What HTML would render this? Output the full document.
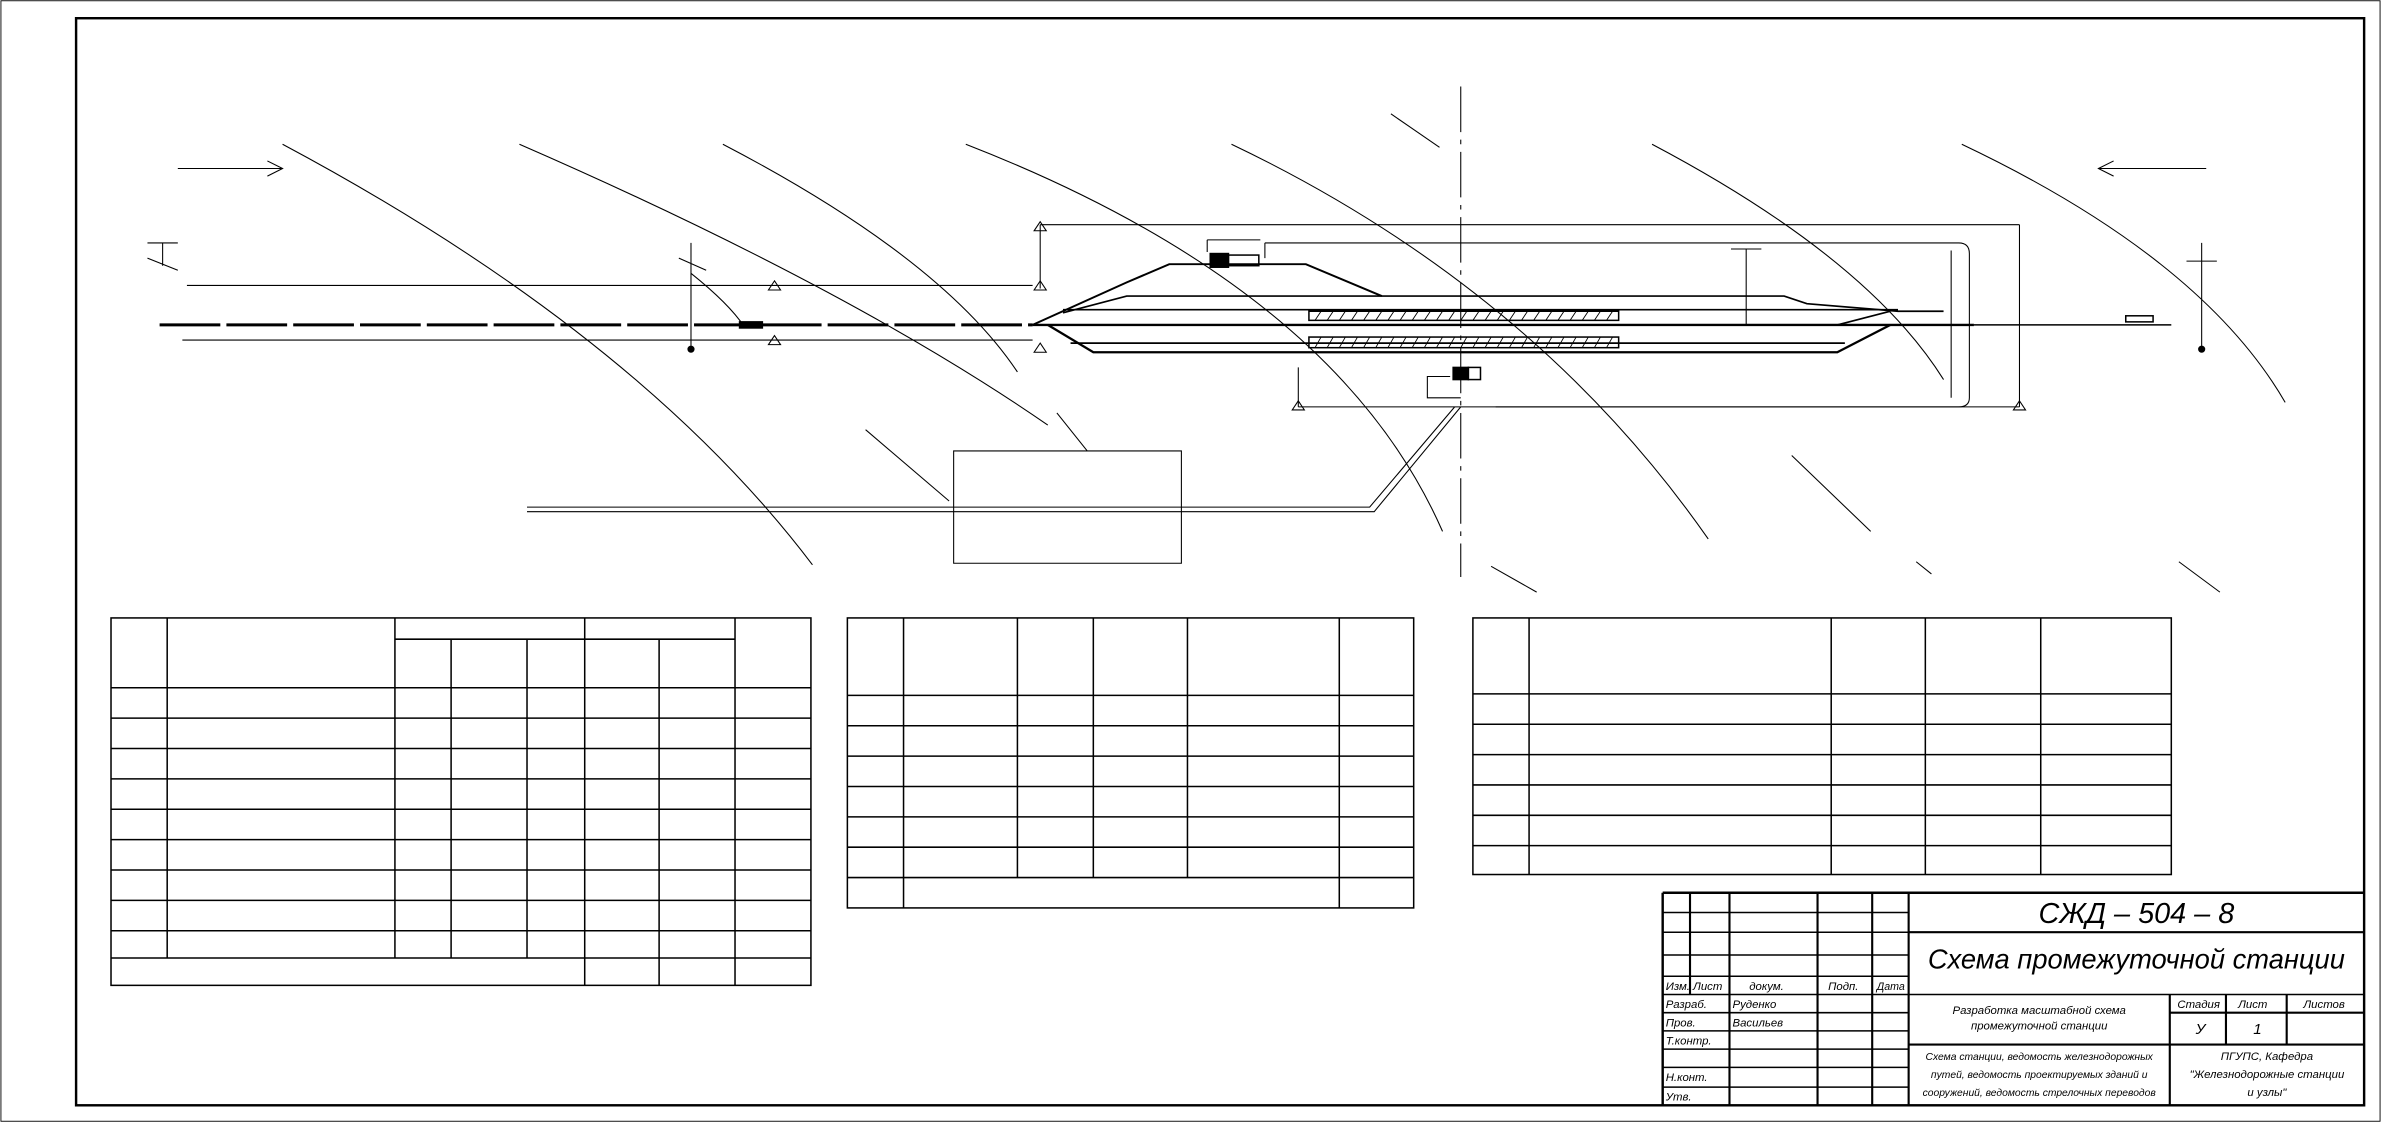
<!DOCTYPE html>
<html><head><meta charset="utf-8"><style>
html,body{margin:0;padding:0;background:#fff;}
svg{display:block}
text{font-family:"Liberation Sans",sans-serif;font-style:italic;fill:#000}
</style></head><body>
<svg width="2381" height="1122" viewBox="0 0 1568 739" xmlns="http://www.w3.org/2000/svg">
<rect x="0" y="0" width="1568" height="739" fill="#fff"/>
<rect x="0.5" y="0.5" width="1567" height="738" fill="none" stroke="#000" stroke-width="0.6"/>
<rect x="50" y="12" width="1507" height="716" fill="none" stroke="#000" stroke-width="1.6"/>
<g fill="none" stroke="#000" stroke-width="0.7">
<path d="M186,95 Q420,220 535,372"/>
<path d="M342,95 Q560,190 690,280"/>
<path d="M570,283 L625,330"/>
<path d="M476,95 Q620,170 670,245"/>
<path d="M636,95 Q880,190 950,350"/>
<path d="M811,95 Q1010,190 1125,355"/>
<path d="M1088,95 Q1230,170 1280,250"/>
<path d="M1180,300 L1232,350"/>
<path d="M1292,95 Q1450,170 1505,265"/>
<path d="M916,75 L948,97"/><path d="M982,373 L1012,390"/><path d="M1262,370 L1272,378"/><path d="M1435,370 L1462,390"/>
<path d="M455,180 Q480,200 490,215"/>
<path d="M962,57 L962,380" stroke-dasharray="30,5,3,5"/>
<path d="M117,111 L186,111 M176,106 L186,111 L176,116"/>
<path d="M1453,111 L1382,111 M1392,106 L1382,111 L1392,116"/>
<path d="M123,188 L680,188 M120,224 L680,224"/>
<path d="M685,148 L1330,148 M685,148 L685,190 M1330,148 L1330,268 M855,268 L1330,268 M855,242 L855,268"/>
<path d="M833,160 L1290,160 Q1297,160 1297,167 L1297,262 Q1297,268 1290,268 L985,268"/>
<path d="M833,160 L833,170 M1285,165 L1285,262"/>
<path d="M97,160 L117,160 M107,160 L107,175 M97,170 L117,178"/>
<path d="M455,160 L455,228 M447,170 L465,178"/><circle cx="455" cy="230" r="2" fill="#000"/>
<path d="M1450,160 L1450,228 M1440,172 L1460,172"/><circle cx="1450" cy="230" r="2" fill="#000"/>
<path d="M1140,164 L1160,164 M1150,164 L1150,214"/>
<path d="M510,185 L506,191 L514,191 Z M510,221 L506,227 L514,227 Z M685,185 L681,191 L689,191 Z M685,226 L681,232 L689,232 Z M855,264 L851,270 L859,270 Z M1330,264 L1326,270 L1334,270 Z M685,146 L681,152 L689,152 Z"/>
<path d="M628,297 H778 V371 H628 Z M696,272 L716,297"/>
<path d="M347,334 L902,334 L958,268 M347,337 L905,337 L962,268"/>
<path d="M962,262 L940,262 L940,248 L955,248"/>
<path d="M795,158 L830,158 M795,158 L795,166"/>
</g>
<g stroke="#000" fill="none">
<path d="M105,214 L680,214" stroke-width="2" stroke-dasharray="40,4"/>
<path d="M680,214 L1300,214" stroke-width="1.6"/>
<path d="M1300,214 L1430,214" stroke-width="1"/>
<path d="M680,214 L742,186 L770,174 L860,174 L910,195" stroke-width="1.3"/>
<path d="M700,206 L742,195 L1175,195 L1190,200 L1250,205 L1280,205" stroke-width="1.1"/>
<path d="M700,204 L1250,204" stroke-width="1.1"/>
<path d="M690,214 L720,232 L1210,232 L1245,214" stroke-width="1.5"/>
<path d="M705,226 L1215,226" stroke-width="1.1"/>
<path d="M1210,214 L1245,205" stroke-width="1.1"/>
<rect x="862" y="205" width="204" height="6" stroke-width="1"/>
<rect x="862" y="222" width="204" height="7" stroke-width="1"/>
<path d="M866,211 l4,-6 M874,211 l4,-6 M882,211 l4,-6 M890,211 l4,-6 M898,211 l4,-6 M906,211 l4,-6 M914,211 l4,-6 M922,211 l4,-6 M930,211 l4,-6 M938,211 l4,-6 M946,211 l4,-6 M954,211 l4,-6 M962,211 l4,-6 M970,211 l4,-6 M978,211 l4,-6 M986,211 l4,-6 M994,211 l4,-6 M1002,211 l4,-6 M1010,211 l4,-6 M1018,211 l4,-6 M1026,211 l4,-6 M1034,211 l4,-6 M1042,211 l4,-6 M1050,211 l4,-6 M1058,211 l4,-6" stroke-width="0.6"/>
<path d="M866,229 l4,-7 M874,229 l4,-7 M882,229 l4,-7 M890,229 l4,-7 M898,229 l4,-7 M906,229 l4,-7 M914,229 l4,-7 M922,229 l4,-7 M930,229 l4,-7 M938,229 l4,-7 M946,229 l4,-7 M954,229 l4,-7 M962,229 l4,-7 M970,229 l4,-7 M978,229 l4,-7 M986,229 l4,-7 M994,229 l4,-7 M1002,229 l4,-7 M1010,229 l4,-7 M1018,229 l4,-7 M1026,229 l4,-7 M1034,229 l4,-7 M1042,229 l4,-7 M1050,229 l4,-7 M1058,229 l4,-7" stroke-width="0.6"/>
<rect x="797" y="167" width="12" height="9" fill="#000"/>
<rect x="809" y="168" width="20" height="7" stroke-width="1"/>
<rect x="957" y="242" width="10" height="8" fill="#000"/>
<rect x="967" y="242" width="8" height="8" stroke-width="1"/>
<rect x="1400" y="208" width="18" height="4" stroke-width="1"/>
<rect x="487" y="212" width="15" height="4" fill="#000"/>
</g>
<g stroke="#000" stroke-width="1" fill="none">
<rect x="73" y="407" width="461" height="242"/>
<path d="M110,407V631 M260,407V631 M297,421V631 M347,421V631 M385,407V649 M434,421V649 M484,407V649 M260,421H484"/>
<path d="M73,453H534 M73,473H534 M73,493H534 M73,513H534 M73,533H534 M73,553H534 M73,573H534 M73,593H534 M73,613H534 M73,631H534"/>
<rect x="558" y="407" width="373" height="191"/>
<path d="M595,407V598 M670,407V578 M720,407V578 M782,407V578 M882,407V598"/>
<path d="M558,458H931 M558,478H931 M558,498H931 M558,518H931 M558,538H931 M558,558H931 M558,578H931"/>
<rect x="970" y="407" width="460" height="169"/>
<path d="M1007,407V576 M1206,407V576 M1268,407V576 M1344,407V576"/>
<path d="M970,457H1430 M970,477H1430 M970,497H1430 M970,517H1430 M970,537H1430 M970,557H1430"/>
</g>
<g stroke="#000" fill="none">
<path d="M1095,588V728 M1095,588H1557" stroke-width="1.6"/>
<path d="M1113,588V655 M1139,588V728 M1197,588V728 M1233,588V728 M1257,588V728" stroke-width="1.4"/>
<path d="M1095,601H1257 M1095,614H1257 M1095,629H1257 M1095,643H1257 M1095,655H1557 M1095,667H1257 M1095,679H1257 M1095,691H1257 M1095,703H1257 M1095,716H1257" stroke-width="1"/>
<path d="M1257,614H1557 M1429,655V728 M1429,667H1557 M1429,688H1557 M1257,688H1429 M1466,655V688 M1506,655V688" stroke-width="1.4"/>
</g>
<g font-size="7.5">
<text x="1097" y="652">Изм.</text><text x="1115" y="652">Лист</text><text x="1152" y="652">докум.</text><text x="1204" y="652">Подп.</text><text x="1236" y="652" font-size="7">Дата</text>
<text x="1097" y="664">Разраб.</text><text x="1141" y="664">Руденко</text>
<text x="1097" y="676">Пров.</text><text x="1141" y="676">Васильев</text>
<text x="1097" y="688">Т.контр.</text>
<text x="1097" y="712">Н.конт.</text>
<text x="1097" y="725">Утв.</text>
<text x="1434" y="664">Стадия</text><text x="1474" y="664">Лист</text><text x="1517" y="664">Листов</text>
<text x="1446" y="681" font-size="10">У</text><text x="1484" y="681" font-size="10">1</text>
<text x="1343" y="668" text-anchor="middle">Разработка масштабной схема</text>
<text x="1343" y="678" text-anchor="middle">промежуточной станции</text>
</g>
<g font-size="6.8">
<text x="1343" y="698" text-anchor="middle">Схема станции, ведомость железнодорожных</text>
<text x="1343" y="710" text-anchor="middle">путей, ведомость проектируемых зданий и</text>
<text x="1343" y="722" text-anchor="middle">сооружений, ведомость стрелочных переводов</text>
<text x="1493" y="698" text-anchor="middle" font-size="7.5">ПГУПС, Кафедра</text>
<text x="1493" y="710" text-anchor="middle" font-size="7.5">"Железнодорожные станции</text>
<text x="1493" y="722" text-anchor="middle" font-size="7.5">и узлы"</text>
</g>
<text x="1407" y="608" font-size="19" text-anchor="middle">СЖД – 504 – 8</text>
<text x="1407" y="638" font-size="18" text-anchor="middle">Схема промежуточной станции</text>
</svg>
</body></html>
